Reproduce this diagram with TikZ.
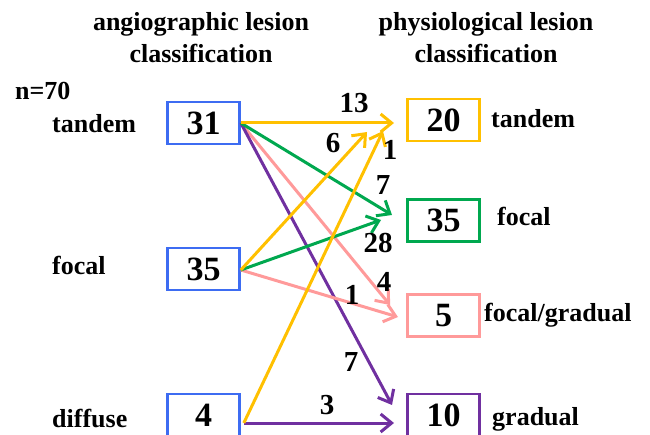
\documentclass[tikz,border=0pt]{standalone}
\usepackage{fontspec}
\setmainfont{Liberation Serif}
\usetikzlibrary{arrows.meta}
\definecolor{boxblue}{HTML}{3D6CF2}
\definecolor{flowgold}{HTML}{FFC000}
\definecolor{flowgreen}{HTML}{00A84F}
\definecolor{flowpink}{HTML}{FF9A9A}
\definecolor{flowpurple}{HTML}{7030A0}
\tikzset{
    classbox/.style={draw, line width=2.6pt, minimum width=72pt, minimum height=42pt, inner sep=0pt, font=\fontsize{34}{34}\selectfont\bfseries},
    classlabel/.style={anchor=base west, inner sep=0pt, font=\fontsize{26}{30}\selectfont\bfseries},
    headlabel/.style={align=center, anchor=base, inner sep=0pt, font=\fontsize{26}{32}\selectfont\bfseries},
    countlabel/.style={inner sep=0pt, font=\fontsize{29}{29}\selectfont\bfseries},
    flow/.style={line width=3pt, -{Straight Barb[length=11pt,width=18pt,line width=3pt]}},
}

\begin{document}
\begin{tikzpicture}[x=1pt, y=-1pt]
\clip (0,0) rectangle (650,435);

% headings
\node[headlabel] (hangio) at (201,63) {angiographic lesion\\classification};
\node[headlabel] (hphys) at (486,63) {physiological lesion\\classification};
\node[classlabel] (ncount) at (15,100) {n=70};

% angiographic side
\node[classbox, boxblue] (lt) at (203.5,123) {\color{black}31};
\node[classbox, boxblue] (lf) at (203.5,269) {\color{black}35};
\node[classbox, boxblue] (ld) at (203.5,415) {\color{black}4};
\node[classlabel] (ltl) at (52,133) {tandem};
\node[classlabel] (lfl) at (52,275) {focal};
\node[classlabel] (ldl) at (52,427) {diffuse};

% physiological side
\node[classbox, flowgold] (rt) at (443.5,120) {\color{black}20};
\node[classbox, flowgreen] (rf) at (443.5,220.5) {\color{black}35};
\node[classbox, flowpink] (rp) at (443.5,315.5) {\color{black}5};
\node[classbox, flowpurple] (rg) at (443.5,415) {\color{black}10};
\node[classlabel] (rtl) at (491,128) {tandem};
\node[classlabel] (rfl) at (497,226) {focal};
\node[classlabel] (rpl) at (484,322) {focal/gradual};
\node[classlabel] (rgl) at (492,425) {gradual};

% start and end points of the flows
\coordinate (st) at (lt.east);
\coordinate (sf) at ([yshift=-1pt]lf.east);
\coordinate (sd) at ([xshift=3pt,yshift=-8pt]ld.east);
\coordinate (ett) at (394,123);
\coordinate (etf) at (392,215);
\coordinate (etp) at (390,305);
\coordinate (etg) at (392,405);
\coordinate (eft) at (367,132);
\coordinate (eff) at (381,220);
\coordinate (efp) at (398,317);
\coordinate (edt) at (383,131);
\coordinate (edg) at (394,423);

\foreach \s/\e/\c in {st/etp/flowpink, st/etg/flowpurple, st/etf/flowgreen, st/ett/flowgold,
                      sf/efp/flowpink, sf/eff/flowgreen, sf/eft/flowgold,
                      sd/edg/flowpurple, sd/edt/flowgold} {
    \draw[flow, \c] (\s) -- (\e);
}

% counts
\foreach \n/\x/\y/\t in {ctt/354/103/13, cft/333/143/6, cdt/390/150/1, ctf/383/185/7, cff/378/243/28,
                         ctp/384/282/4, cfp/352/295/1, ctg/351/362/7, cdg/327/405/3} {
    \node[countlabel] (\n) at (\x,\y) {\t};
}
\end{tikzpicture}
\end{document}
